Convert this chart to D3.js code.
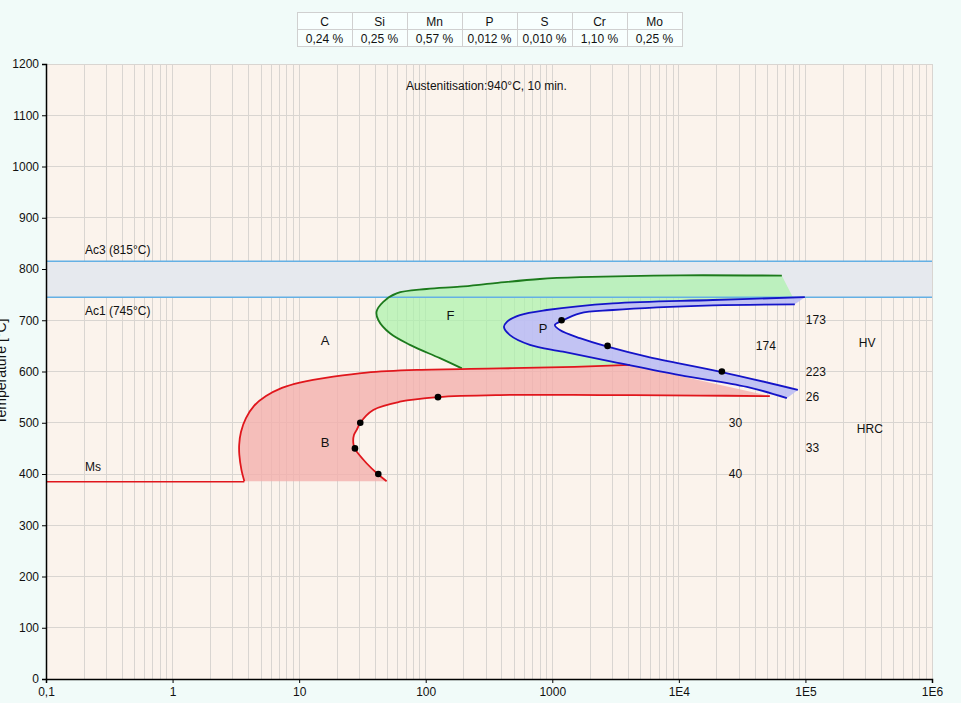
<!DOCTYPE html>
<html>
<head>
<meta charset="utf-8">
<script src="https://cdn.jsdelivr.net/npm/d3@7"></script>
<style>
  html, body { margin: 0; padding: 0; background: #f1fbf9; }
  svg { display: block; font-family: "Liberation Sans", Arial, sans-serif; }
</style>
</head>
<body>
<svg id="chart" width="961" height="703"></svg>
<script>
// ---------- DATA ----------
const elements = ["C", "Si", "Mn", "P", "S", "Cr", "Mo"];
const contents = ["0,24 %", "0,25 %", "0,57 %", "0,012 %", "0,010 %", "1,10 %", "0,25 %"];

const xTickValues = [0.1, 1, 10, 100, 1000, 1e4, 1e5, 1e6];
const xTickLabels = ["0,1", "1", "10", "100", "1000", "1E4", "1E5", "1E6"];
const yTickValues = [0, 100, 200, 300, 400, 500, 600, 700, 800, 900, 1000, 1100, 1200];

const Ac3 = 815, Ac1 = 745, Ms = 385;

// [time s, temperature °C]
const bainiteStart = [[3.69,386],[3.50,408],[3.37,437],[3.36,457],[3.47,482],[3.80,509],[4.40,533],[5.47,552],[7.31,568],[10.1,578.5],[18.6,590],[34.1,598],[85.2,603],[385,606],[1500,609],[4100,613]];
const bainiteEnd = [[49.1,386],[42.2,399],[34.1,421],[27.6,449],[26.8,460],[27.1,476],[28.5,486],[30.4,500],[38.5,525],[62.5,541],[125,550],[385,554],[2377,554],[14650,553],[52340,552]];
const ferriteStart = [[193,606],[129.5,626],[75,652],[52.2,674.5],[42.2,700.5],[40.9,717],[46.2,736],[58.9,752.6],[101.6,761],[186,765.5],[340,772],[798,780.5],[1652,784],[10180,787.7],[65110,787]];
const ferriteCorner = [79540, 745];
const pearliteStart = [[98930,745],[18560,739.5],[3010,733],[906,720],[555,710],[438,697],[415,687],[463,671],[665,652],[1213,638.6],[3010,619],[10180,593],[34450,570],[71320,548]];
const pearliteEnd = [[82470,731],[18560,729],[3010,720],[1652,713.6],[1184,698.5],[1048,690.7],[1148,681],[1652,665],[2734,648.4],[5588,629],[21870,599],[87100,564]];

const bainiteDots = [[42.2,400],[27.6,450],[30.4,500],[125,550]];
const pearliteDots = [[1184,700],[2734,650],[21870,600]];

const hardnessLabels = [
  {t:100700, T:700, text:"173"}, {t:40570, T:650, text:"174"}, {t:100700, T:600, text:"223"},
  {t:100700, T:550, text:"26"}, {t:24830, T:500, text:"30"}, {t:100700, T:450, text:"33"},
  {t:24830, T:400, text:"40"}, {t:264100, T:655, text:"HV"}, {t:254700, T:488, text:"HRC"}
];
const phaseLabels = [
  {t:16, T:661, text:"A"}, {t:157, T:710, text:"F"}, {t:847, T:684, text:"P"}, {t:16, T:461, text:"B"}
];
const noteLabels = [
  {t:69.8, T:1157, text:"Austenitisation:940°C, 10 min."},
  {t:0.203, T:837, text:"Ac3 (815°C)"},
  {t:0.203, T:719, text:"Ac1 (745°C)"},
  {t:0.203, T:414, text:"Ms"}
];

// ---------- LAYOUT ----------
const svg = d3.select("#chart");
const x = d3.scaleLog().domain([0.1, 1e6]).range([46, 932]);
const y = d3.scaleLinear().domain([0, 1200]).range([679, 64]);

const plot = svg.append("g");
plot.append("rect").attr("x", x(0.1)).attr("y", y(1200))
  .attr("width", x(1e6) - x(0.1)).attr("height", y(0) - y(1200)).attr("fill", "#fbf3ec");

// grid
const minor = [];
for (let e = -1; e < 6; e++) for (let k = 1; k <= 9; k++) minor.push(k * Math.pow(10, e));
minor.push(1e6);
plot.append("g").selectAll("line").data(minor).join("line")
  .attr("x1", d => x(d)).attr("x2", d => x(d)).attr("y1", y(0)).attr("y2", y(1200))
  .attr("stroke", "#d9d5d1").attr("stroke-width", 1).attr("shape-rendering", "crispEdges");
plot.append("g").selectAll("line").data(yTickValues).join("line")
  .attr("x1", x(0.1)).attr("x2", x(1e6)).attr("y1", d => y(d)).attr("y2", d => y(d))
  .attr("stroke", "#d9d5d1").attr("stroke-width", 1).attr("shape-rendering", "crispEdges");

// Ac band
plot.append("rect").attr("x", x(0.1)).attr("y", y(Ac3)).attr("width", x(1e6) - x(0.1))
  .attr("height", y(Ac1) - y(Ac3)).attr("fill", "#e6e9ee");

const line = d3.line().x(d => x(d[0])).y(d => y(d[1])).curve(d3.curveCatmullRom.alpha(0.5));

// ferrite fill: ferrite curve, corner, pearlite start down to red line, red top back
const redTopTail = bainiteStart.filter(d => d[0] >= 385).slice().reverse();
const fPoly = [...ferriteStart, ferriteCorner, ...pearliteStart.slice(0, 11), [4100, 613], ...redTopTail.slice(1), [193, 606]];
plot.append("path").attr("d", d3.line().x(d => x(d[0])).y(d => y(d[1])).curve(d3.curveLinearClosed)(fPoly))
  .attr("fill", "#aaf2a9").attr("fill-opacity", 0.7);

// bainite fill
plot.append("path").attr("d", line(bainiteStart) + line(bainiteEnd.slice().reverse()).replace(/^M/, "L") + "Z")
  .attr("fill", "#f4aeac").attr("fill-opacity", 0.78);

// pearlite fill
plot.append("path").attr("d", line(pearliteStart) + line(pearliteEnd.slice().reverse()).replace(/^M/, "L") + "Z")
  .attr("fill", "#bbbef4").attr("fill-opacity", 0.9);

// Ac lines
[Ac3, Ac1].forEach(v => plot.append("line").attr("x1", x(0.1)).attr("x2", x(1e6))
  .attr("y1", y(v)).attr("y2", y(v)).attr("stroke", "#64b0e4").attr("stroke-width", 1.6));

// Ms line
plot.append("line").attr("x1", x(0.1)).attr("x2", x(bainiteStart[0][0])).attr("y1", y(Ms)).attr("y2", y(Ms))
  .attr("stroke", "#e0161c").attr("stroke-width", 1.6);

// curves
const curves = [
  {d: ferriteStart, c: "#1c7a1c"},
  {d: bainiteStart, c: "#e0161c"},
  {d: bainiteEnd, c: "#e0161c"},
  {d: pearliteStart, c: "#1414c8"},
  {d: pearliteEnd, c: "#1414c8"}
];
curves.forEach(cv => plot.append("path").attr("d", line(cv.d)).attr("fill", "none")
  .attr("stroke", cv.c).attr("stroke-width", 1.8));

// dots
plot.append("g").selectAll("circle").data(bainiteDots.concat(pearliteDots)).join("circle")
  .attr("cx", d => x(d[0])).attr("cy", d => y(d[1])).attr("r", 3.3).attr("fill", "#000");

// texts
const textG = svg.append("g").attr("font-size", 12).attr("fill", "#111");
textG.selectAll("text.h").data(hardnessLabels).join("text").attr("class", "h")
  .attr("x", d => x(d.t)).attr("y", d => y(d.T)).attr("dominant-baseline", "central").text(d => d.text);
textG.selectAll("text.p").data(phaseLabels).join("text").attr("class", "p")
  .attr("x", d => x(d.t)).attr("y", d => y(d.T)).attr("text-anchor", "middle").attr("dominant-baseline", "central")
  .attr("font-size", 13).text(d => d.text);
textG.selectAll("text.n").data(noteLabels).join("text").attr("class", "n")
  .attr("x", d => x(d.t)).attr("y", d => y(d.T)).attr("dominant-baseline", "central").text(d => d.text);

// axes
const yAxis = d3.axisLeft(y).tickValues(yTickValues).tickSize(4).tickPadding(3).tickFormat(d3.format("d"));
const gy = svg.append("g").attr("transform", `translate(${x(0.1)},0)`).call(yAxis);
gy.select(".domain").attr("stroke", "#000").attr("stroke-width", 1.5);
gy.selectAll("text").attr("font-size", 12).attr("font-family", "Liberation Sans, Arial, sans-serif").attr("fill", "#111");

const xAxis = d3.axisBottom(x).tickValues(xTickValues).tickSize(4).tickPadding(4)
  .tickFormat((d, i) => xTickLabels[i]);
const gx = svg.append("g").attr("transform", `translate(0,${y(0)})`).call(xAxis);
gx.select(".domain").attr("stroke", "#000").attr("stroke-width", 1.5);
gx.selectAll("text").attr("font-size", 12).attr("font-family", "Liberation Sans, Arial, sans-serif").attr("fill", "#111");

// y axis title (partly cut at the left edge, as in the reference)
svg.append("text").attr("transform", `translate(6,${(y(0) + y(1200)) / 2}) rotate(-90)`)
  .attr("text-anchor", "middle").attr("font-size", 14).attr("fill", "#111").text("Temperature [°C]");

// composition table
const tbl = svg.append("g");
const colW = 55, tx0 = 297, ty0 = 12, rowH = 17;
elements.forEach((el, i) => {
  [el, contents[i]].forEach((txt, r) => {
    tbl.append("rect").attr("x", tx0 + i * colW + 0.5).attr("y", ty0 + r * rowH + 0.5)
      .attr("width", colW).attr("height", rowH).attr("fill", "#f8fffe").attr("stroke", "#d0d0d0");
    tbl.append("text").attr("x", tx0 + i * colW + colW / 2).attr("y", ty0 + r * rowH + rowH / 2 + 1)
      .attr("text-anchor", "middle").attr("dominant-baseline", "central").attr("font-size", 12)
      .attr("fill", "#111").text(txt);
  });
});
</script>
</body>
</html>
